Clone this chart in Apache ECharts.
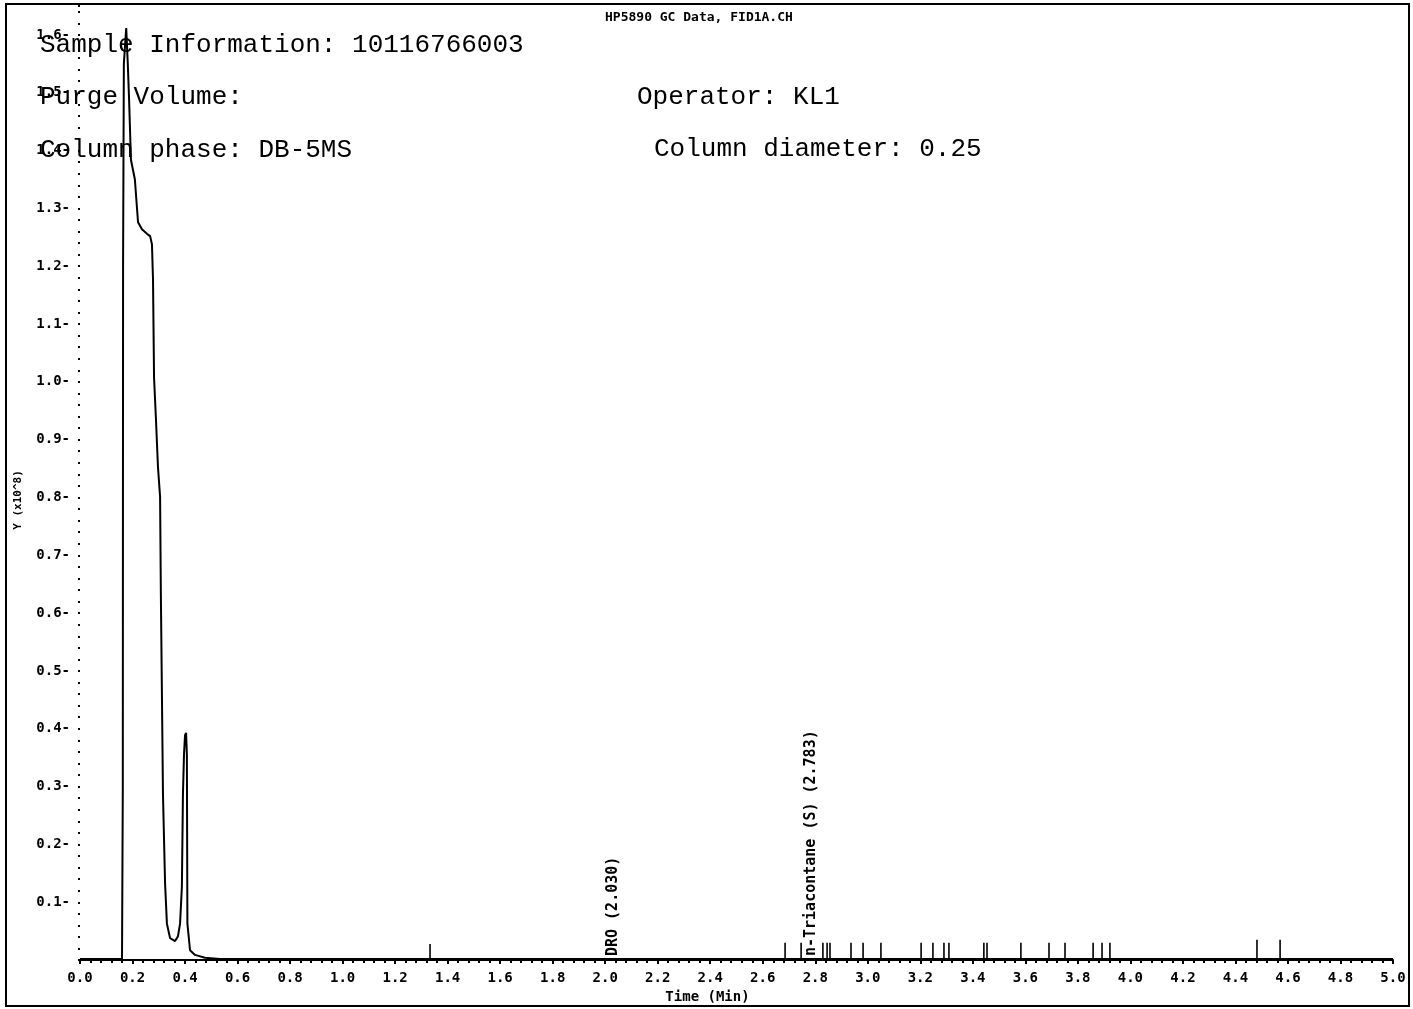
<!DOCTYPE html>
<html>
<head>
<meta charset="utf-8">
<script src="https://cdn.jsdelivr.net/npm/echarts@6/dist/echarts.min.js"></script>
<style>html,body{margin:0;padding:0;background:#fff}#main{width:1413px;height:1009px}</style>
</head>
<body>
<div id="main"></div>
<script>
// Chromatogram trace (time in min, signal in x10^8)
const traceTime = [0.000, 0.160, 0.163, 0.164, 0.167, 0.176, 0.182, 0.187, 0.194, 0.209, 0.221, 0.236, 0.255, 0.267, 0.274, 0.278, 0.282, 0.289, 0.297, 0.305, 0.308, 0.312, 0.316, 0.324, 0.331, 0.343, 0.362, 0.373, 0.381, 0.388, 0.392, 0.396, 0.400, 0.404, 0.407, 0.409, 0.419, 0.438, 0.476, 0.533, 5.000];
const traceSignal = [0.002, 0.002, 0.300, 1.200, 1.550, 1.612, 1.550, 1.487, 1.384, 1.350, 1.276, 1.264, 1.256, 1.252, 1.238, 1.178, 1.007, 0.938, 0.852, 0.801, 0.630, 0.458, 0.286, 0.132, 0.063, 0.038, 0.033, 0.041, 0.063, 0.127, 0.286, 0.355, 0.389, 0.393, 0.355, 0.063, 0.017, 0.009, 0.004, 0.002, 0.002];
// Integration event marks along the baseline
const eventTimes = [1.333, 2.685, 2.746, 2.829, 2.845, 2.856, 2.936, 2.982, 3.050, 3.203, 3.248, 3.290, 3.309, 3.442, 3.454, 3.583, 3.690, 3.751, 3.858, 3.892, 3.922, 4.482, 4.570];
const eventHeights = [0.028, 0.030, 0.030, 0.030, 0.030, 0.030, 0.030, 0.030, 0.030, 0.030, 0.030, 0.030, 0.030, 0.030, 0.030, 0.030, 0.030, 0.030, 0.030, 0.030, 0.030, 0.035, 0.035];
// Peak labels
const peakTimes = [2.030, 2.783];
const peakNames = ['DRO (2.030)', 'n-Triacontane (S) (2.783)'];
// Axis
const xTicks = ['0.0','0.2','0.4','0.6','0.8','1.0','1.2','1.4','1.6','1.8','2.0','2.2','2.4','2.6','2.8','3.0','3.2','3.4','3.6','3.8','4.0','4.2','4.4','4.6','4.8','5.0'];
const yTicks = ['0.1','0.2','0.3','0.4','0.5','0.6','0.7','0.8','0.9','1.0','1.1','1.2','1.3','1.4','1.5','1.6'];

const chart = echarts.init(document.getElementById('main'));
const mono = "'DejaVu Sans Mono', monospace";
const traceData = traceTime.map((t, i) => [t, traceSignal[i]]);
const eventData = eventTimes.map((t, i) => [t, 0.002, eventHeights[i]]);
const peakData = peakTimes.map((t, i) => [t, 0.007, peakNames[i]]);

chart.setOption({
  animation: false,
  backgroundColor: '#fff',
  title: {
    text: 'HP5890 GC Data, FID1A.CH',
    left: 600, top: 6,
    textStyle: {fontFamily: mono, fontWeight: 'bold', fontSize: 13, color: '#000'}
  },
  grid: {left: 80, right: 20, top: 6, bottom: 42},
  xAxis: {
    type: 'value', min: 0, max: 5, interval: 0.2,
    name: 'Time (Min)', nameLocation: 'middle', nameGap: 25,
    nameTextStyle: {fontFamily: mono, fontWeight: 'bold', fontSize: 14, color: '#000', padding: [0, 58, 0, 0]},
    axisLine: {lineStyle: {color: '#000', width: 2}},
    axisTick: {show: true, length: 4, lineStyle: {color: '#000', width: 2}},
    minorTick: {show: true, splitNumber: 5, length: 3, lineStyle: {color: '#000', width: 2}},
    splitLine: {show: false},
    axisLabel: {
      margin: 11, fontFamily: mono, fontWeight: 'bold', fontSize: 14, color: '#000',
      formatter: v => { const s = v.toFixed(1); return xTicks.indexOf(s) >= 0 ? s : ''; }
    }
  },
  yAxis: {
    type: 'value', min: 0, max: 1.65, interval: 0.1, offset: 4,
    name: 'Y (x10^8)', nameLocation: 'middle', nameGap: 52, nameRotate: 90,
    nameTextStyle: {fontFamily: mono, fontWeight: 'bold', fontSize: 11, color: '#000', padding: [0, 34, 0, 0]},
    axisLine: {show: false},
    axisTick: {show: true, length: 2, lineStyle: {color: '#000', width: 2}},
    minorTick: {show: true, splitNumber: 5, length: 2, lineStyle: {color: '#000', width: 2}},
    splitLine: {show: false},
    axisLabel: {
      margin: 6, fontFamily: mono, fontWeight: 'bold', fontSize: 14, color: '#000',
      formatter: v => { const s = v.toFixed(1); return (Math.abs(v * 10 - Math.round(v * 10)) < 1e-6 && yTicks.indexOf(s) >= 0) ? s + '-' : ''; }
    }
  },
  series: [
    {
      name: 'FID1A', type: 'line', data: traceData, showSymbol: false, symbol: 'none',
      lineStyle: {color: '#000', width: 2}, z: 3, clip: true
    },
    {
      name: 'Events', type: 'custom', data: eventData, z: 4,
      renderItem: (params, api) => {
        const p0 = api.coord([api.value(0), api.value(1)]);
        const p1 = api.coord([api.value(0), api.value(2)]);
        return {type: 'line', shape: {x1: p0[0], y1: p0[1], x2: p1[0], y2: p1[1]}, style: {stroke: '#000', lineWidth: 1.6}};
      }
    },
    {
      name: 'Peaks', type: 'custom', data: peakData, z: 5,
      renderItem: (params, api) => {
        const p = api.coord([api.value(0), api.value(1)]);
        return {type: 'text', x: p[0], y: p[1], rotation: Math.PI / 2,
          style: {text: peakNames[params.dataIndex], fill: '#000', font: "bold 15px 'DejaVu Sans Mono', monospace", align: 'left', verticalAlign: 'middle'}};
      }
    }
  ],
  graphic: [
    {type: 'rect', shape: {x: 6, y: 4, width: 1403, height: 1002}, style: {fill: 'none', stroke: '#000', lineWidth: 2}, z: 0, silent: true},
    {type: 'text', x: 40, y: 45, z: 10, style: {text: 'Sample Information: 10116766003', font: "26px 'Liberation Mono', monospace", fill: '#000', verticalAlign: 'middle'}},
    {type: 'text', x: 40, y: 97, z: 10, style: {text: 'Purge Volume:', font: "26px 'Liberation Mono', monospace", fill: '#000', verticalAlign: 'middle'}},
    {type: 'text', x: 637, y: 97, z: 10, style: {text: 'Operator: KL1', font: "26px 'Liberation Mono', monospace", fill: '#000', verticalAlign: 'middle'}},
    {type: 'text', x: 40, y: 150, z: 10, style: {text: 'Column phase: DB-5MS', font: "26px 'Liberation Mono', monospace", fill: '#000', verticalAlign: 'middle'}},
    {type: 'text', x: 654, y: 149, z: 10, style: {text: 'Column diameter: 0.25', font: "26px 'Liberation Mono', monospace", fill: '#000', verticalAlign: 'middle'}}
  ]
});
</script>
</body>
</html>
